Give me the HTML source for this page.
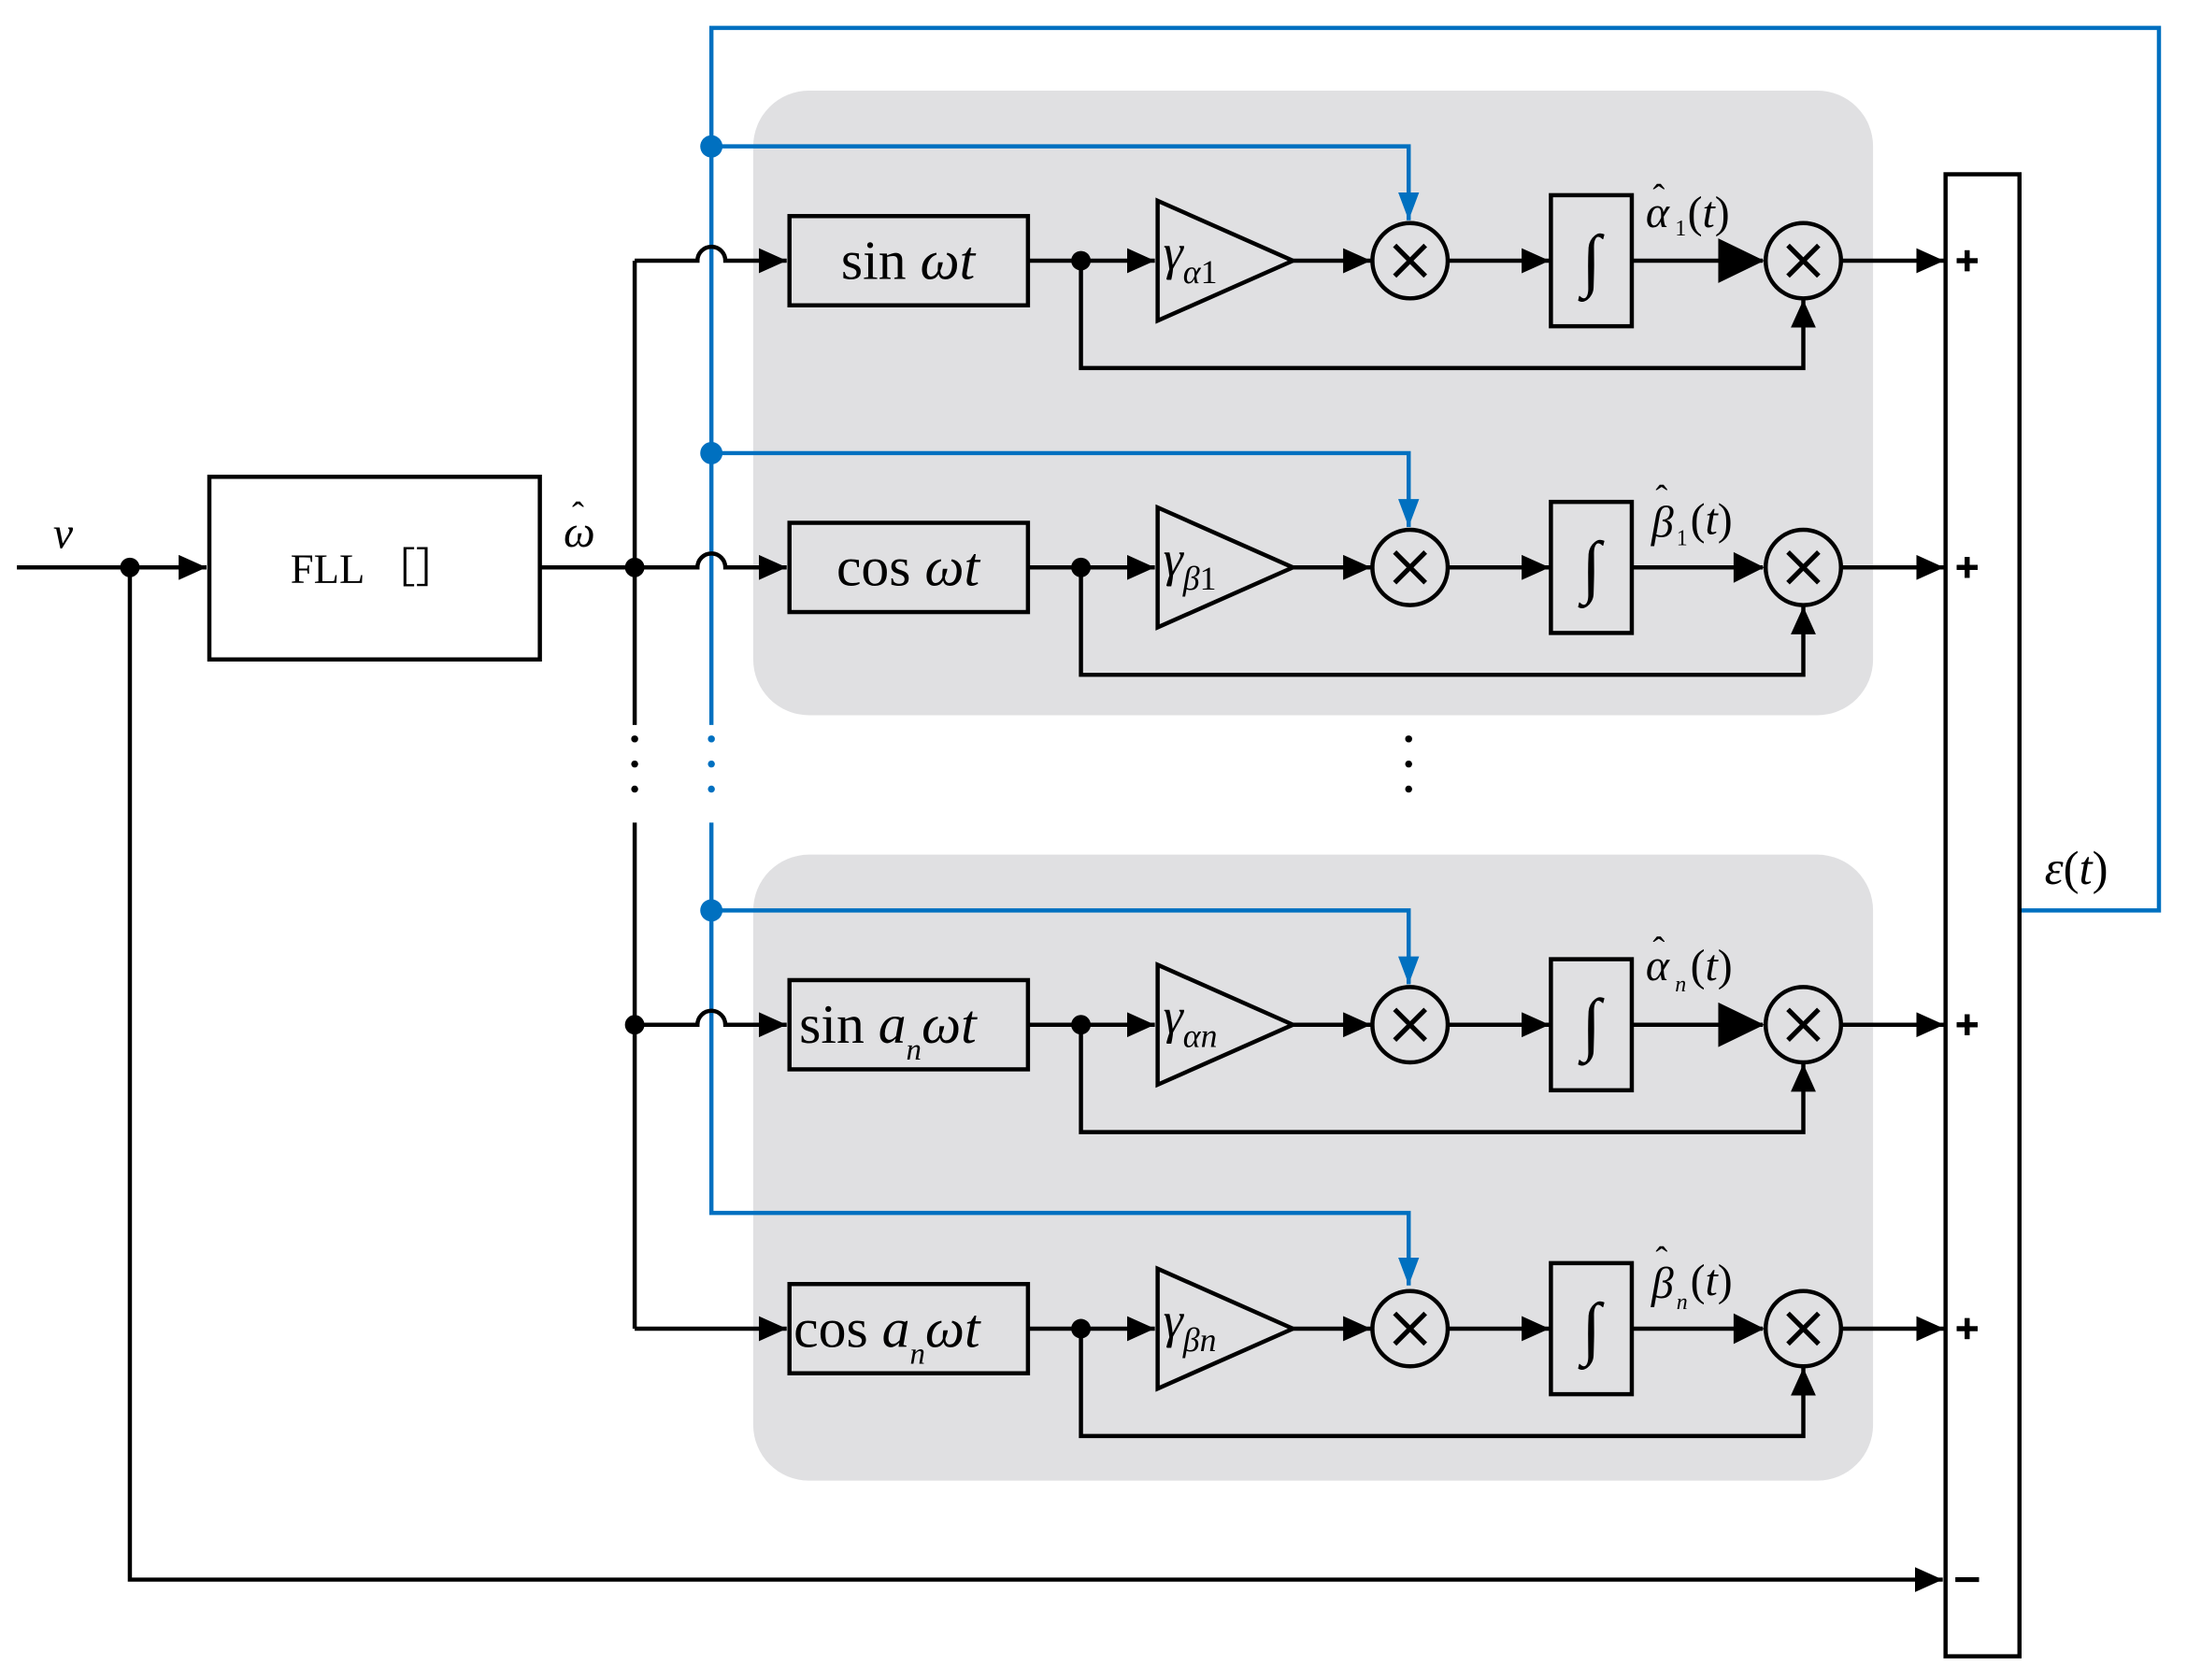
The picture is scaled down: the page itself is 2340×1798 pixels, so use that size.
<!DOCTYPE html>
<html><head><meta charset="utf-8"><style>html,body{margin:0;padding:0;background:#fff}svg{display:block}</style></head><body>
<svg width="2340" height="1798" viewBox="0 0 1568 1205" xmlns="http://www.w3.org/2000/svg">
<defs>
<marker id="a" viewBox="0 0 10 10" refX="10" refY="5" markerWidth="20" markerHeight="18" orient="auto" markerUnits="userSpaceOnUse" preserveAspectRatio="none"><path d="M0,0L10,5L0,10z" fill="#000"/></marker>
<marker id="ab" viewBox="0 0 10 10" refX="10" refY="5" markerWidth="20" markerHeight="15" orient="auto" markerUnits="userSpaceOnUse" preserveAspectRatio="none"><path d="M0,0L10,5L0,10z" fill="#0070c0"/></marker>
</defs>
<style>
.k{stroke:#000;stroke-width:3;fill:none}
.b{stroke:#0070c0;stroke-width:3;fill:none}
text{font-family:"Liberation Serif",serif;fill:#000}
.i{font-style:italic}
.x{stroke:#000;stroke-width:3.5}
</style>
<rect x="540" y="65" width="803" height="448" rx="40" fill="#e0e0e2"/>
<rect x="540" y="613" width="803" height="449" rx="40" fill="#e0e0e2"/>

<line class="k" x1="12" y1="407" x2="148" y2="407" marker-end="url(#a)"/>
<circle cx="93" cy="407" r="7"/>
<text x="38" y="393" font-size="32" class="i">v</text>
<rect class="k" x="150" y="342" width="237" height="131"/>
<text x="268" y="418" font-size="30" text-anchor="middle" fill="#333">FLL ［］</text>
<line class="k" x1="387" y1="407" x2="455" y2="407"/>
<text x="404" y="392" font-size="32" class="i">ω</text>
<text x="410" y="378" font-size="26">ˆ</text>
<circle cx="455" cy="407" r="7"/>
<polyline class="k" points="93,407 93,1133 1393,1133" marker-end="url(#a)"/>

<line class="k" x1="455" y1="187" x2="455" y2="520"/>
<line class="k" x1="455" y1="590" x2="455" y2="953"/>
<circle cx="455" cy="530" r="2.5"/><circle cx="455" cy="548" r="2.5"/><circle cx="455" cy="566" r="2.5"/>
<circle cx="455" cy="735" r="7"/>

<polyline class="b" points="510,520 510,20 1548,20 1548,653 1448,653"/>
<polyline class="b" points="510,590 510,870 1010,870 1010,922" marker-end="url(#ab)"/>
<circle cx="510" cy="530" r="2.5" fill="#0070c0"/><circle cx="510" cy="548" r="2.5" fill="#0070c0"/><circle cx="510" cy="566" r="2.5" fill="#0070c0"/>
<polyline class="b" points="510,105 1010,105 1010,158" marker-end="url(#ab)"/>
<polyline class="b" points="510,325 1010,325 1010,378" marker-end="url(#ab)"/>
<polyline class="b" points="510,653 1010,653 1010,706" marker-end="url(#ab)"/>
<circle cx="510" cy="105" r="8" fill="#0070c0"/>
<circle cx="510" cy="325" r="8" fill="#0070c0"/>
<circle cx="510" cy="653" r="8" fill="#0070c0"/>

<path class="k" d="M455,187 H500 A10,10 0 0 1 520,187 H564" marker-end="url(#a)"/>
<path class="k" d="M455,407 H500 A10,10 0 0 1 520,407 H564" marker-end="url(#a)"/>
<path class="k" d="M455,735 H500 A10,10 0 0 1 520,735 H564" marker-end="url(#a)"/>
<path class="k" d="M455,953 H564" marker-end="url(#a)"/>

<g id="r1">
<rect class="k" x="566" y="155" width="171" height="64"/>
<line class="k" x1="737" y1="187" x2="828" y2="187" marker-end="url(#a)"/>
<circle cx="775" cy="187" r="7"/>
<polygon class="k" points="830,144 927,187 830,230"/>
<line class="k" x1="927" y1="187" x2="983" y2="187" marker-end="url(#a)"/>
<circle class="k" cx="1011" cy="187" r="27"/>
<line class="x" x1="1000" y1="176" x2="1022" y2="198"/><line class="x" x1="1022" y1="176" x2="1000" y2="198"/>
<line class="k" x1="1038" y1="187" x2="1111" y2="187" marker-end="url(#a)"/>
<rect class="k" x="1112" y="140" width="58" height="94"/>
<text x="1141" y="203" font-size="50" text-anchor="middle">∫</text>
<line class="k" x1="1170" y1="187" x2="1264" y2="187"/>
<circle class="k" cx="1293" cy="187" r="27"/>
<line class="x" x1="1282" y1="176" x2="1304" y2="198"/><line class="x" x1="1304" y1="176" x2="1282" y2="198"/>
<polyline class="k" points="775,187 775,264 1293,264 1293,215" marker-end="url(#a)"/>
<line class="k" x1="1320" y1="187" x2="1394" y2="187" marker-end="url(#a)"/>
<path d="M1403,187h15M1410.5,179.5v15" stroke="#000" stroke-width="3.5"/>
</g>
<use href="#r1" y="220"/>
<use href="#r1" y="548"/>
<use href="#r1" y="766"/>
<path d="M1232,171L1265,187L1232,203z"/>
<path d="M1232,719L1265,735L1232,751z"/>
<path d="M1243,396L1265,407L1243,418z"/>
<path d="M1243,942L1265,953L1243,964z"/>

<text x="651" y="200" font-size="40" text-anchor="middle">sin <tspan class="i">ωt</tspan></text>
<text x="651" y="420" font-size="40" text-anchor="middle">cos <tspan class="i">ωt</tspan></text>
<text x="573" y="748" font-size="40">sin <tspan class="i">a</tspan><tspan class="i" font-size="22" dy="12">n</tspan><tspan class="i" dy="-12">ωt</tspan></text>
<text x="569" y="966" font-size="40">cos <tspan class="i">a</tspan><tspan class="i" font-size="22" dy="12">n</tspan><tspan class="i" dy="-12">ωt</tspan></text>

<text x="834" y="193" font-size="36" class="i">γ<tspan font-size="24" dy="10">α</tspan><tspan font-size="24" font-style="normal">1</tspan></text>
<text x="834" y="413" font-size="36" class="i">γ<tspan font-size="24" dy="10">β</tspan><tspan font-size="24" font-style="normal">1</tspan></text>
<text x="834" y="741" font-size="36" class="i">γ<tspan font-size="24" dy="10">αn</tspan></text>
<text x="834" y="959" font-size="36" class="i">γ<tspan font-size="24" dy="10">βn</tspan></text>

<g id="h1">
<text x="1180" y="163" font-size="32" class="i">α</text>
<text x="1185" y="150" font-size="26">ˆ</text>
</g>
<text x="1201" y="169" font-size="16">1</text>
<text x="1210" y="163" font-size="32">(<tspan class="i">t</tspan>)</text>
<text x="1184" y="385" font-size="32" class="i">β</text><text x="1187" y="366" font-size="26">ˆ</text>
<text x="1202" y="391" font-size="16">1</text>
<text x="1212" y="383" font-size="32">(<tspan class="i">t</tspan>)</text>
<text x="1180" y="703" font-size="32" class="i">α</text><text x="1185" y="690" font-size="26">ˆ</text>
<text x="1201" y="711" font-size="16" class="i">n</text>
<text x="1212" y="703" font-size="32">(<tspan class="i">t</tspan>)</text>
<text x="1184" y="931" font-size="32" class="i">β</text><text x="1187" y="912" font-size="26">ˆ</text>
<text x="1202" y="939" font-size="16" class="i">n</text>
<text x="1212" y="929" font-size="32">(<tspan class="i">t</tspan>)</text>

<circle cx="1010" cy="530" r="2.5"/><circle cx="1010" cy="548" r="2.5"/><circle cx="1010" cy="566" r="2.5"/>

<rect class="k" x="1395" y="125" width="53" height="1063" fill="#fff"/>
<path d="M1403,187h15M1410.5,179.5v15M1403,407h15M1410.5,399.5v15M1403,735h15M1410.5,727.5v15M1403,953h15M1410.5,945.5v15M1402,1133h17" stroke="#000" stroke-width="3.5"/>
<text x="1466" y="634" font-size="34"><tspan class="i">ε</tspan>(<tspan class="i">t</tspan>)</text>
</svg>
</body></html>
